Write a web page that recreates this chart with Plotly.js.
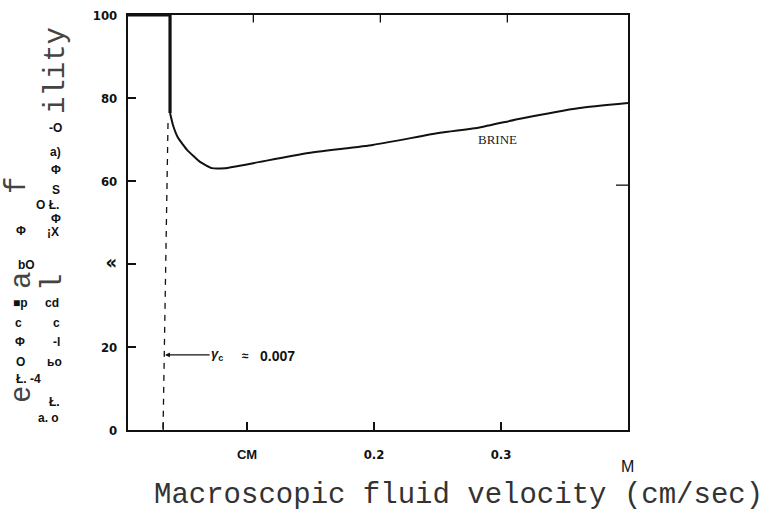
<!DOCTYPE html>
<html>
<head>
<meta charset="utf-8">
<script src="https://cdn.plot.ly/plotly-3.0.1.min.js"></script>
<style>html,body{margin:0;padding:0;background:#fff;}#chart{width:766px;height:521px;}</style>
</head>
<body>
<div id="chart"></div>
<script>
// Data
const stepVelocity = [0.0063, 0.0394, 0.0394];
const stepPerm = [100, 100, 76.4];
const brineVelocity = [0.0394, 0.0417, 0.0457, 0.0528, 0.063, 0.0724, 0.0827, 0.105, 0.147, 0.199, 0.252, 0.283, 0.315, 0.362, 0.4];
const brinePerm = [76.4, 73.5, 70.4, 67.5, 64.6, 63.1, 63.1, 64.3, 66.7, 68.7, 71.6, 72.9, 75.0, 77.6, 78.8];
const criticalVelocity = [0.0378, 0.0339];
const criticalPerm = [74, 0];
const criticalMark = 0.034;
const yTickVals = [0, 20, 40, 60, 80, 100];
const yTickText = ['0', '20', '<span style="font-size:20px">«</span>', '60', '80', '100'];
const xTickVals = [0.1, 0.2, 0.3];
const xTickText = ['<span style="font-family:Liberation Sans, Arial, sans-serif">CM</span>', '0.2', '0.3'];
const topTickVals = [0.105, 0.205, 0.305];
const rightTickVal = 59;

const L = 128, T = 15, W = 500, H = 415;
function px(x) { return (x - L) / W; }
function py(y) { return (T + H - y) / H; }

const mono = 'Liberation Mono, Courier New, monospace';
const sans = 'Liberation Sans, Arial, sans-serif';
const narrow = 'Liberation Sans Narrow, DejaVu Sans Condensed, Arial Narrow, sans-serif';
const ink = '#111';

const traces = [
  {x: stepVelocity, y: stepPerm, mode: 'lines', line: {color: ink, width: 3.2}, hoverinfo: 'skip'},
  {x: brineVelocity, y: brinePerm, mode: 'lines', line: {color: ink, width: 2, shape: 'spline', smoothing: 0.4}, hoverinfo: 'skip'},
  {x: criticalVelocity, y: criticalPerm, mode: 'lines', line: {color: ink, width: 1.3, dash: '6px,6px'}, hoverinfo: 'skip'}
];

function smallText(t, x, y, anchor) {
  return {xref: 'paper', yref: 'paper', x: px(x), y: py(y), text: '<b>' + t + '</b>', showarrow: false,
    xanchor: anchor || 'center', yanchor: 'middle', font: {family: sans, size: 12, color: ink}};
}
function rotText(t, x, y) {
  return {xref: 'paper', yref: 'paper', x: px(x), y: py(y), text: t, showarrow: false, textangle: -90,
    xanchor: 'center', yanchor: 'middle', font: {family: mono, size: 29, color: '#444'}};
}

const annotations = [
  // x-axis title
  {xref: 'paper', yref: 'paper', x: px(458), y: py(495), text: 'Macroscopic fluid velocity (cm/sec)', showarrow: false,
    xanchor: 'center', yanchor: 'middle', font: {family: mono, size: 29, color: '#333'}},
  {xref: 'paper', yref: 'paper', x: px(627), y: py(466), text: 'M', showarrow: false,
    xanchor: 'center', yanchor: 'middle', font: {family: sans, size: 16, color: ink}},
  // BRINE label
  {x: 0.297, y: 70.1, text: 'BRINE', showarrow: false, xanchor: 'center', yanchor: 'middle',
    font: {family: 'Liberation Serif, Times New Roman, serif', size: 13, color: '#222'}},
  // critical velocity arrow with its label
  {x: 0.0355, y: 18.1, ax: 52, ay: 0, text: '<b><i>γ</i></b><sub><b>c</b></sub>', showarrow: true,
    arrowhead: 2, arrowsize: 0.8, arrowwidth: 1.2, arrowcolor: ink, font: {family: sans, size: 13, color: ink}},
  {xref: 'paper', yref: 'paper', x: px(245), y: py(356), text: '<b>≈</b>', showarrow: false,
    xanchor: 'center', yanchor: 'middle', font: {family: sans, size: 12, color: ink}},
  {xref: 'paper', yref: 'paper', x: px(258), y: py(356), text: '<b>0.007</b>', showarrow: false,
    xanchor: 'left', yanchor: 'middle', font: {family: sans, size: 14, color: ink}},
  // garbled rotated y title pieces
  rotText('ility', 57, 71),
  rotText('f', 18, 186),
  rotText('a', 22, 281),
  rotText('l', 53, 283),
  rotText('e', 22, 395),
  // small scattered fragments
  smallText('-O', 55, 128),
  smallText('a)', 55, 152),
  smallText('Φ', 56, 170),
  smallText('S', 56, 190),
  smallText('O Ł.', 47, 205),
  smallText('Φ', 56, 219),
  smallText('Φ', 21, 231),
  smallText('¡X', 53, 232),
  smallText('bO', 26, 265),
  smallText('■p', 20, 303),
  smallText('cd', 52, 303),
  smallText('c', 18, 323),
  smallText('c', 56, 323),
  smallText('Φ', 20, 342),
  smallText('-l', 56, 342),
  smallText('O', 20, 362),
  smallText('ьo', 54, 362),
  smallText('Ł. -4', 28, 379),
  smallText('Ł.', 54, 402),
  smallText('a. o', 48, 418)
];

const shapes = topTickVals.map(v => ({type: 'line', xref: 'x', yref: 'paper', x0: v, x1: v, y0: 1, y1: 0.982,
  line: {color: ink, width: 1.3}}));
shapes.push({type: 'line', xref: 'paper', yref: 'y', x0: 0.976, x1: 1, y0: rightTickVal, y1: rightTickVal, line: {color: ink, width: 1.3}});
shapes.push({type: 'line', xref: 'x', yref: 'paper', x0: criticalMark, x1: criticalMark, y0: 0, y1: 0.019, line: {color: ink, width: 1.3}});

const layout = {
  width: 766, height: 521,
  margin: {l: L, r: 766 - L - W, t: T, b: 521 - T - H},
  paper_bgcolor: '#fff', plot_bgcolor: '#fff',
  showlegend: false,
  xaxis: {range: [0.0063, 0.4], tickvals: xTickVals, ticktext: xTickText, ticks: 'inside', ticklen: 8, tickwidth: 1.3,
    tickcolor: ink, showline: true, linecolor: ink, linewidth: 1.6, mirror: true, showgrid: false, zeroline: false,
    ticklabelstandoff: 12, tickfont: {family: narrow, size: 13, color: ink, weight: 'bold'}},
  yaxis: {range: [0, 100], tickvals: yTickVals, ticktext: yTickText, ticks: 'inside', ticklen: 8, tickwidth: 1.3,
    tickcolor: ink, showline: true, linecolor: ink, linewidth: 2.2, mirror: true, showgrid: false, zeroline: false,
    ticklabelstandoff: 6, tickfont: {family: narrow, size: 13, color: ink, weight: 'bold'}},
  annotations: annotations,
  shapes: shapes
};

Plotly.newPlot('chart', traces, layout, {displayModeBar: false, staticPlot: true});
</script>
</body>
</html>
